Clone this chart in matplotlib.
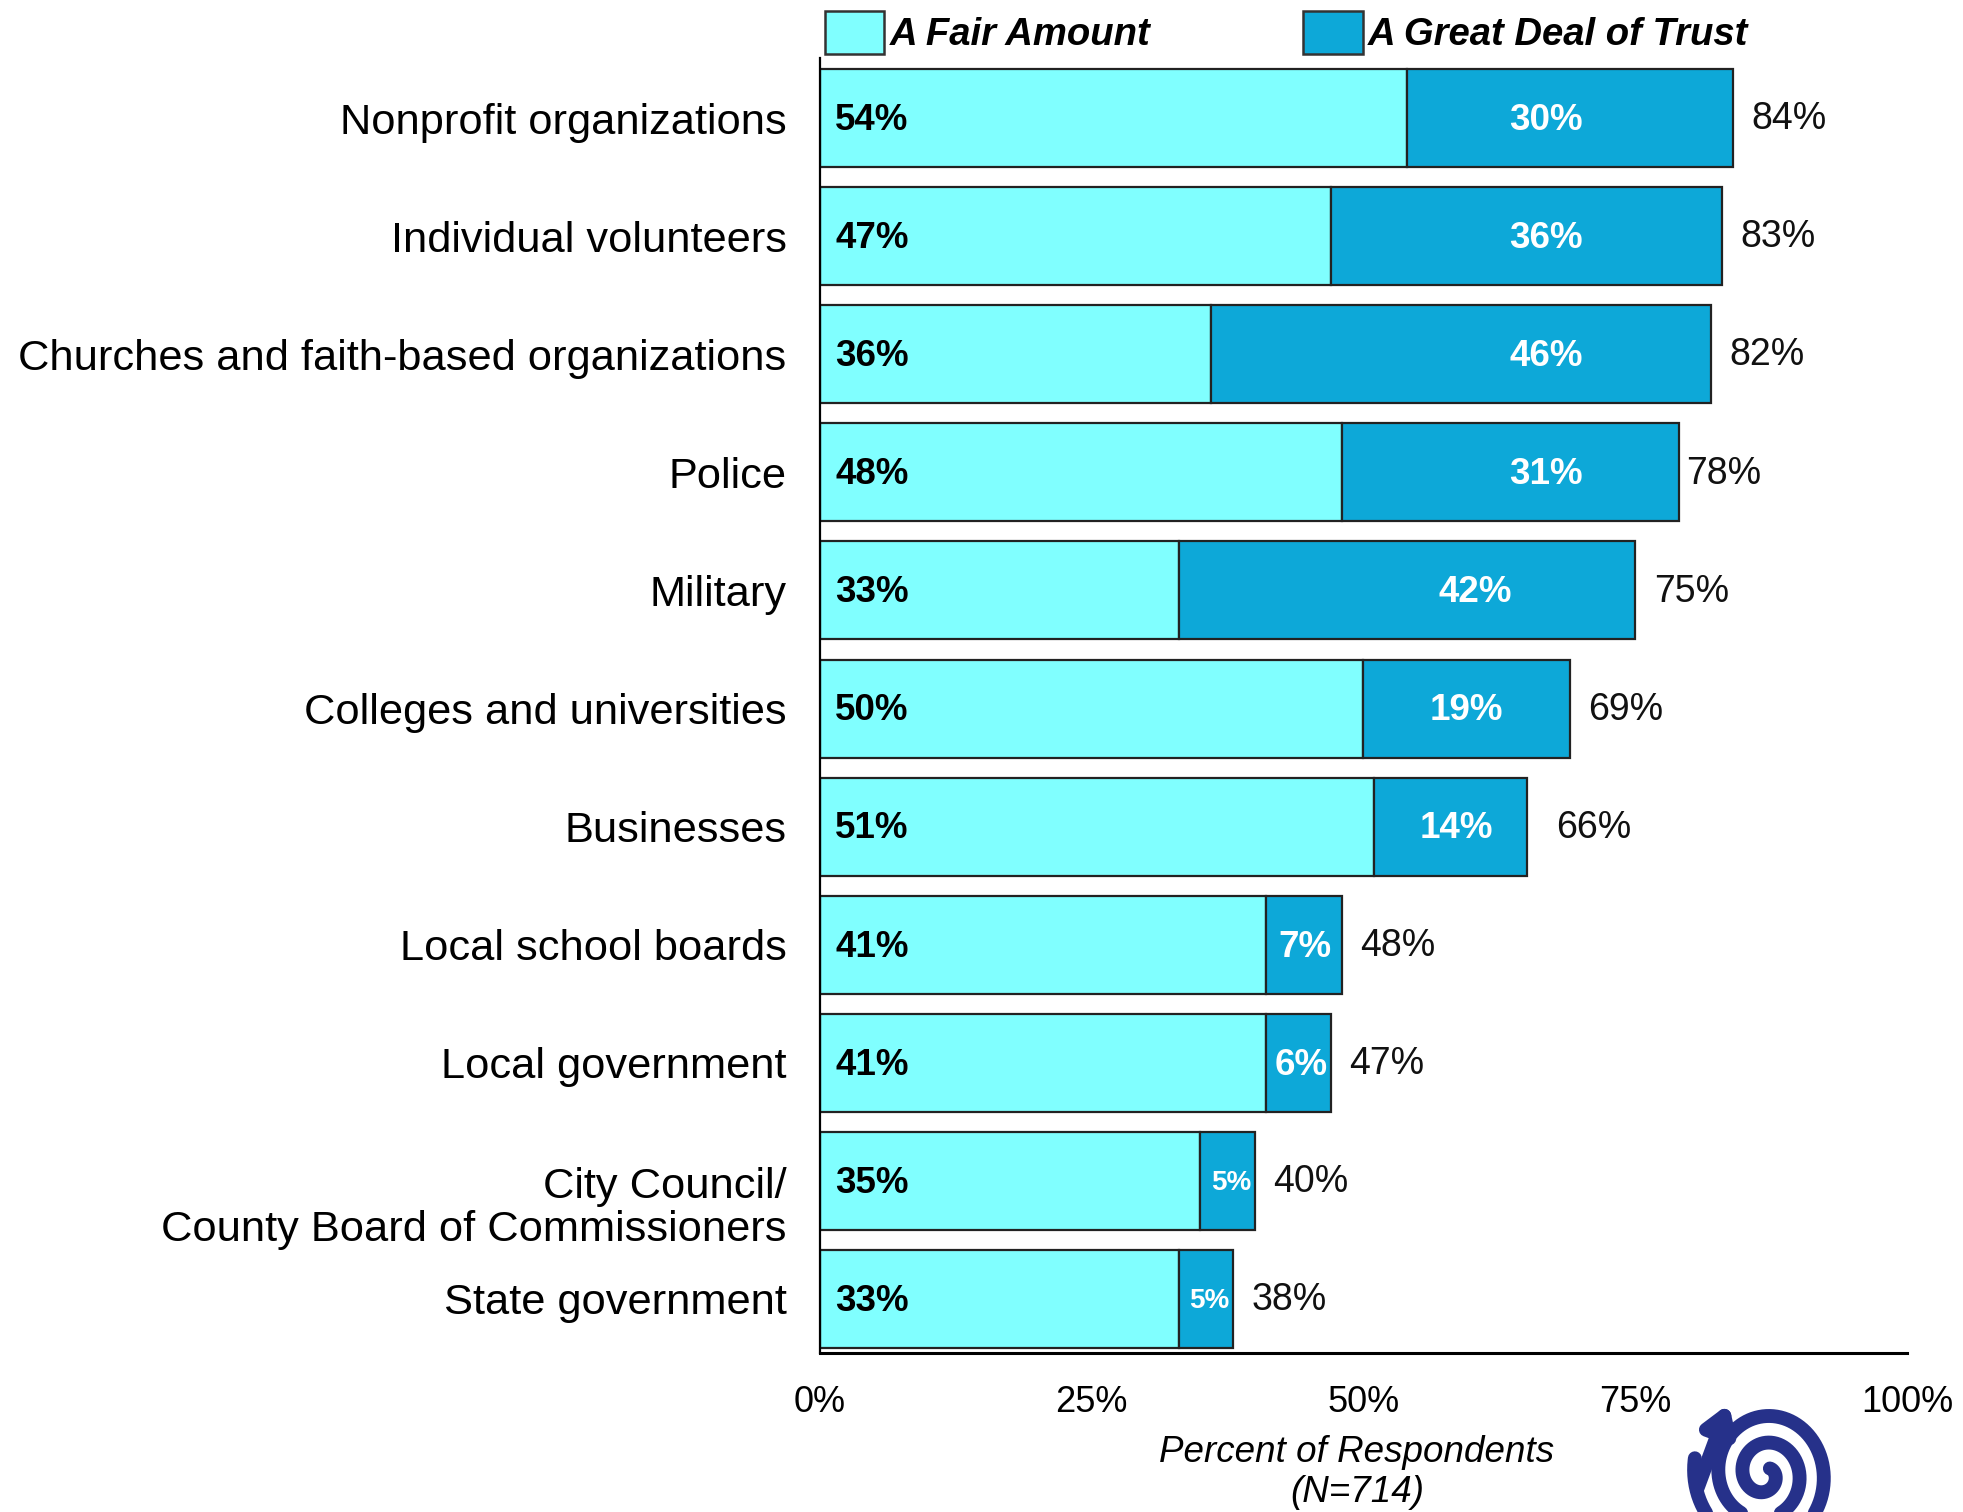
import numpy as np
import matplotlib
matplotlib.use("Agg")
import matplotlib.pyplot as plt
from matplotlib.patches import Patch, FancyArrowPatch
from matplotlib.transforms import ScaledTranslation

plt.rcParams['font.family'] = ['Liberation Sans', 'DejaVu Sans']

categories = ["Nonprofit organizations", "Individual volunteers",
              "Churches and faith-based organizations", "Police", "Military",
              "Colleges and universities", "Businesses", "Local school boards",
              "Local government", "City Council/\nCounty Board of Commissioners",
              "State government"]
fair_amount = [54, 47, 36, 48, 33, 50, 51, 41, 41, 35, 33]
great_deal = [30, 36, 46, 31, 42, 19, 14, 7, 6, 5, 5]
totals = [84, 83, 82, 78, 75, 69, 66, 48, 47, 40, 38]
x_ticks = [0, 25, 50, 75, 100]
x_tick_labels = ["0%", "25%", "50%", "75%", "100%"]
series_names = ["A Fair Amount", "A Great Deal of Trust"]
# label placement for dark-segment labels (percent units)
great_label_x = [66.8, 66.8, 66.8, 66.8, 60.3, 59.5, 58.5, 44.6, 44.3, 37.8, 35.8]

light = "#80FFFF"
dark = "#0DA8D8"

W, H = 1963, 1512
fig = plt.figure(figsize=(W / 100, H / 100), dpi=100)
ax = fig.add_axes([0.4177, 0.1052, 0.5538, 0.8564])

y = np.arange(len(categories))
h = 0.83
ax.barh(y, fair_amount, height=h, color=light, edgecolor="#222222", linewidth=1.6)
ax.barh(y, great_deal, left=fair_amount, height=h, color=dark, edgecolor="#222222", linewidth=1.6)

for i in range(len(categories)):
    ax.text(1.4, y[i] + 0.02, f"{fair_amount[i]}%", ha="left", va="center",
            fontsize=26.5, fontweight="bold", color="black")
    fs = 20 if great_deal[i] < 6 else 26.5
    ax.text(great_label_x[i], y[i] + 0.02, f"{great_deal[i]}%", ha="center", va="center",
            fontsize=fs, fontweight="bold", color="white")
    ax.text(totals[i] + 1.7, y[i] + 0.01, f"{totals[i]}%", ha="left", va="center",
            fontsize=27, color="#111111")

ax.set_ylim(10.457, -0.508)
ax.set_xlim(0, 100)
ax.set_yticks(y)
ax.set_yticklabels(categories, fontsize=31.2, linespacing=1.1)
ax.set_xticks(x_ticks)
ax.set_xticklabels(x_tick_labels, fontsize=26)
ax.tick_params(axis="both", length=0)
ax.tick_params(axis="y", pad=24)
ax.tick_params(axis="x", pad=23)
for s in ["top", "right"]:
    ax.spines[s].set_visible(False)
ax.spines["left"].set_linewidth(1.6)
ax.spines["bottom"].set_linewidth(2.2)

# two-line label: first line level with its bar
for lab in ax.get_yticklabels():
    if "\n" in lab.get_text():
        lab.set_transform(lab.get_transform() + ScaledTranslation(0, -0.215, fig.dpi_scale_trans))

ax.set_xlabel("Percent of Respondents\n(N=714)", fontsize=26.5, fontstyle="italic",
              linespacing=1.18)
ax.xaxis.set_label_coords(0.494, -0.0636)
ax.xaxis.label.set_va("top")

handles = [Patch(facecolor=light, edgecolor="#333333", linewidth=1.8),
           Patch(facecolor=dark, edgecolor="#333333", linewidth=1.8)]
fig.legend(handles, series_names, loc="center left", bbox_to_anchor=(0.4027, 0.9785),
           ncol=2, frameon=False, handlelength=1.55, handleheight=1.35,
           handletextpad=0.15, columnspacing=4.0,
           prop={"size": 27.5, "weight": "bold", "style": "italic"})

# decorative spiral logo, drawn in a pixel-unit inset (y measured up from figure bottom)
x0, x1, ytop = 1640, 1880, 132
lax = fig.add_axes([x0 / W, 0, (x1 - x0) / W, ytop / H])
lax.set_xlim(x0, x1)
lax.set_ylim(0, ytop)
lax.axis("off")
cx, cy = 1765, 38
turns = 2.8
s = np.linspace(0, 1, 800)
ang = np.deg2rad(118) + 2 * np.pi * turns * (1 - s)
rad = 7 + 68 * s
sx = cx + rad * np.cos(ang)
sy = cy + 1.1 * rad * np.sin(ang)
navy = "#26318A"
lax.plot(sx[:-40], sy[:-40], color=navy, linewidth=10, solid_capstyle="round")
lax.add_patch(FancyArrowPatch((sx[-60], sy[-60]), (sx[-1], sy[-1]),
                              arrowstyle="-|>,head_width=9,head_length=14",
                              color=navy, linewidth=10, mutation_scale=1))

fig.savefig("out.png", dpi=100)
